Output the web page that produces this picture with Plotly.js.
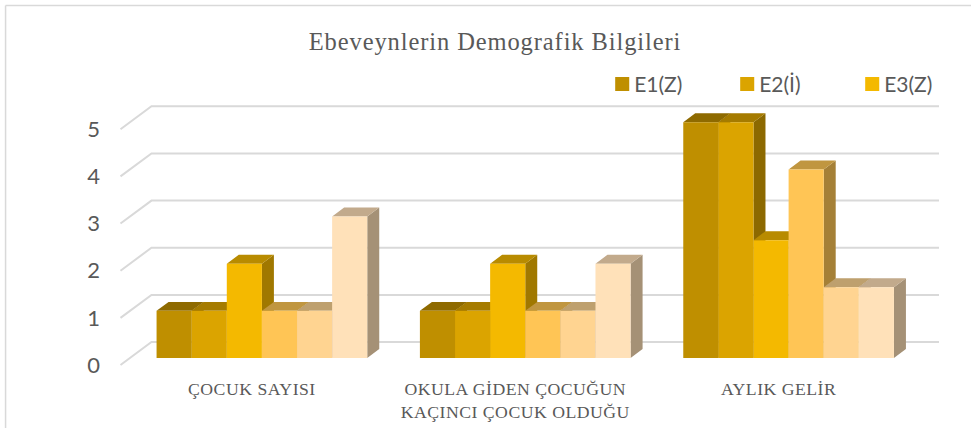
<!DOCTYPE html>
<html><head><meta charset="utf-8">
<script src="https://cdn.plot.ly/plotly-3.0.1.min.js"></script>
<style>html,body{margin:0;padding:0;background:#fff}</style></head>
<body><div id="chart" style="width:971px;height:428px"></div>
<script>
const categories = ["ÇOCUK SAYISI", "OKULA GİDEN ÇOCUĞUN<br>KAÇINCI ÇOCUK OLDUĞU", "AYLIK GELİR"];
const seriesNames = ["E1(Z)", "E2(İ)", "E3(Z)", "E4", "E5", "E6"];
const e1 = [1, 1, 5];
const e2 = [1, 1, 5];
const e3 = [2, 2, 2.5];
const e4 = [1, 1, 4];
const e5 = [1, 1, 1.5];
const e6 = [3, 2, 1.5];
const yTicks = [0, 1, 2, 3, 4, 5];
const frontColors = ["#BF8F00", "#DBA400", "#F4B900", "#FFC555", "#FFD491", "#FFE1B9"];
const topColors = ["#8E6A00", "#A57B00", "#B88B00", "#C09640", "#BEA06E", "#C2AA8C"];
const sideColors = ["#8C6900", "#8C6900", "#A07800", "#A58037", "#A89070", "#A59176"];

const series = [e1, e2, e3, e4, e5, e6];
const pitchPx = 263.5, unitPx = 47.2;
const px = p => p / pitchPx, uy = p => p / unitPx;
const barW = 0.8 / 6, depthX = px(12), depthY = uy(9);
const xIdx = categories.map((_, i) => i);
const traces = [];

const gx = [], gy = [];
yTicks.forEach(v => {
  gx.push(px(939 - 261.5), px(151 - 261.5), px(120 - 261.5), null);
  gy.push(v + uy(16), v + uy(16), v - uy(7), null);
});
traces.push({type:"scatter", mode:"lines", x:gx, y:gy, xaxis:"x", yaxis:"y", cliponaxis:false,
  line:{color:"#D9D9D9", width:2}, showlegend:false, hoverinfo:"skip"});

series.forEach((vals, s) => {
  const sx = [], sy = [], tx = [], ty = [];
  vals.forEach((v, c) => {
    const l = c + (s - 3) * barW, r = l + barW;
    sx.push(r, r + depthX, r + depthX, r, r, null);
    sy.push(0, depthY, v + depthY, v, 0, null);
    tx.push(l, l + depthX, r + depthX, r, l, null);
    ty.push(v, v + depthY, v + depthY, v, v, null);
  });
  const base = {type:"scatter", mode:"lines", fill:"toself", xaxis:"x", yaxis:"y", line:{width:0},
    showlegend:false, hoverinfo:"skip", cliponaxis:false};
  traces.push(Object.assign({}, base, {x:sx, y:sy, fillcolor:sideColors[s]}));
  traces.push(Object.assign({}, base, {x:tx, y:ty, fillcolor:topColors[s]}));
});

series.forEach((vals, s) => {
  traces.push({type:"bar", name:seriesNames[s], x:xIdx, y:vals, xaxis:"x2", yaxis:"y2",
    marker:{color:frontColors[s], line:{width:0}}, showlegend:s < 3});
});

const plotLeft = 100.5, plotRight = 950, plotBottom = 376, plotTop = 93.7;
const xRange = [(plotLeft - 261.5) / pitchPx, (plotRight - 261.5) / pitchPx];
const yRange = [(358 - plotBottom) / unitPx, (358 - plotTop) / unitPx];
const labelFont = "Liberation Serif, Times New Roman, serif";
const W = plotRight - plotLeft, H = plotBottom - plotTop;
const paperX = p => (p - plotLeft) / W, paperY = p => 1 - (p - plotTop) / H;
const layout = {
  width:971, height:428, paper_bgcolor:"#fff", plot_bgcolor:"rgba(0,0,0,0)",
  margin:{l:plotLeft, r:971 - plotRight, t:plotTop, b:428 - plotBottom, autoexpand:false},
  barmode:"group", bargap:0.2, bargroupgap:0,
  title:{text:'<span style="letter-spacing:0.9px">Ebeveynlerin Demografik Bilgileri</span>', x:495/971, xanchor:"center", y:1-41/428, yanchor:"middle",
    font:{family:labelFont, size:24.5, color:"#595959"}},
  xaxis:{range:xRange, tickmode:"array", tickvals:xIdx,
    ticktext:categories.map(c => '<span style="letter-spacing:0.5px">' + c + '</span>'),
    ticks:"", showgrid:false, zeroline:false, showline:false, ticklabelshift:-10,
    tickfont:{family:labelFont, size:17.7, color:"#595959"}},
  yaxis:{range:yRange, tickmode:"array", tickvals:yTicks, ticktext:yTicks.map(String),
    ticks:"", showgrid:false, zeroline:false, showline:false, ticklabelshift:7,
    tickfont:{family:"Lato, Open Sans, sans-serif", size:22, color:"#595959"}},
  xaxis2:{range:xRange, overlaying:"x", visible:false},
  yaxis2:{range:yRange, overlaying:"y", visible:false},
  legend:{orientation:"h", x:paperX(594), xanchor:"left", y:paperY(84), yanchor:"middle",
    entrywidth:80, entrywidthmode:"pixels", traceorder:"normal",
    font:{family:"Lato, Open Sans, sans-serif", size:21, color:"#595959"}, bgcolor:"rgba(0,0,0,0)"},
  shapes:[{type:"line", xref:"paper", yref:"paper", layer:"below",
      x0:paperX(5), x1:paperX(5), y0:paperY(430), y1:paperY(5), line:{color:"#D9D9D9", width:1.5}},
    {type:"line", xref:"paper", yref:"paper", layer:"below",
      x0:paperX(5), x1:paperX(972), y0:paperY(5), y1:paperY(5), line:{color:"#D9D9D9", width:1.5}}]
};
Plotly.newPlot("chart", traces, layout, {displayModeBar:false, responsive:false}).then(() => {
  document.querySelectorAll("#chart .legend g.legendpoints path").forEach(p => {
    p.setAttribute("transform", "translate(28,0) scale(1.17)");
  });
});
</script></body></html>
